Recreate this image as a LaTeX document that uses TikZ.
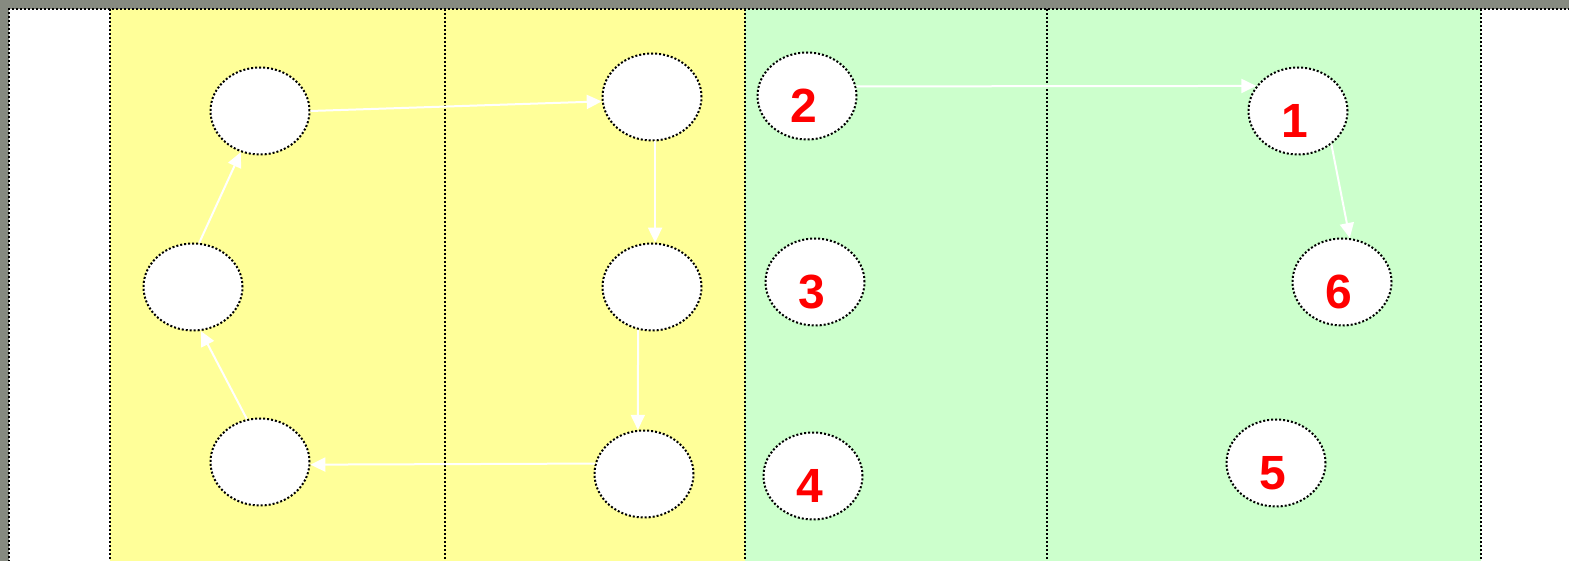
\documentclass[tikz,border=0pt]{standalone}
\usepackage{fontspec}
\setmainfont{Liberation Sans}
\usepackage{xcolor}
\usetikzlibrary{arrows.meta, shapes.geometric}
\definecolor{frame}{HTML}{868A80}
\definecolor{lane yellow}{HTML}{FFFF99}
\definecolor{lane green}{HTML}{CCFFCC}

\begin{document}
\begin{tikzpicture}[
    x=1pt, y=-1pt,
    dots/.style={draw=black, line width=2pt, dash pattern=on 2pt off 2pt},
    state/.style={ellipse, dots, fill=white, minimum width=99pt, minimum height=87pt, inner sep=0pt},
    num/.style={text=red, font=\fontsize{48}{48}\selectfont\bfseries, xshift=-3pt, yshift=-10pt},
    arrow/.style={-{Triangle[length=15pt, width=14pt]}, draw=white, line width=2pt}
]
    \useasboundingbox (0,0) rectangle (1569,561);
    \fill[frame] (0,0) rectangle (1569,561);
    \fill[white] (9,9) rectangle (1580,570);
    \fill[lane yellow] (110,9) rectangle (745,570);
    \fill[lane green] (745,9) rectangle (1481,570);
    \draw[dots] (9,570) -- (9,9) -- (1580,9);
    \foreach \x in {110, 445, 745, 1047, 1481}
        \draw[dots] (\x,9) -- (\x,570);

    % yellow lanes
    \node[state] (topL) at (260,111) {};
    \node[state] (midL) at (193,287) {};
    \node[state] (botL) at (260,462) {};
    \node[state] (topR) at (652,97) {};
    \node[state] (midR) at (652,287) {};
    \node[state] (botR) at (644,474) {};

    % green lanes
    \node[state, label={[num]center:2}] (n2) at (807,96) {};
    \node[state, label={[num]center:3}] (n3) at (815,282) {};
    \node[state, label={[num]center:4}] (n4) at (813,476) {};
    \node[state, label={[num]center:1}] (n1) at (1298,111) {};
    \node[state, label={[num]center:6}] (n6) at (1342,282) {};
    \node[state, label={[num]center:5}] (n5) at (1276,463) {};

    \draw[arrow] (topL.east) -- (topR.185);
    \draw[arrow] (topR.274) -- (midR.86);
    \draw[arrow] (midR.252) -- (botR.98);
    \draw[arrow] (botR.168) -- (botL.357);
    \draw[arrow] (botL.107) -- (midL.280);
    \draw[arrow] (midL.82) -- (topL.245);
    \draw[arrow] (n2.11) -- (n1.149);
    \draw[arrow] (n1.315) -- (n6.80);
\end{tikzpicture}
\end{document}
